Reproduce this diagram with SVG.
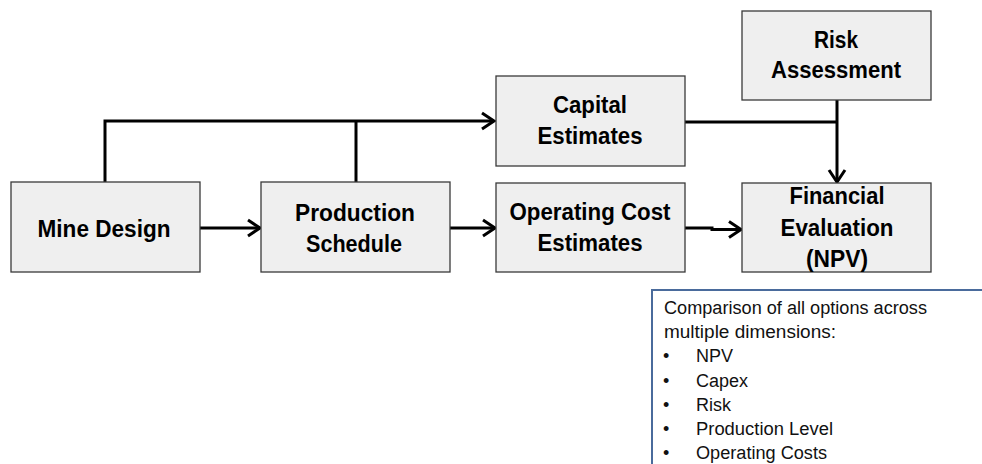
<svg xmlns="http://www.w3.org/2000/svg" width="982" height="464" viewBox="0 0 982 464">
  <style>
    .box { fill: #efefef; stroke: #3a3a3a; stroke-width: 1.3; }
    .lbl { font-family: "Liberation Sans", Arial, sans-serif; font-weight: bold; font-size: 23px; fill: #000; text-anchor: middle; }
    .wire { fill: none; stroke: #000; stroke-width: 3; }
    .note { fill: #fff; stroke: #4a6b9c; stroke-width: 2; }
    .nt { font-family: "Liberation Sans", Arial, sans-serif; font-size: 18px; fill: #111; }
  </style>
  <defs>
    <marker id="arrow" markerUnits="userSpaceOnUse" markerWidth="18" markerHeight="20" viewBox="0 0 18 20" refX="15" refY="10" orient="auto">
      <path d="M3,2 L15,10 L3,18" fill="none" stroke="#000" stroke-width="3"/>
    </marker>
  </defs>

  <rect width="982" height="464" fill="#fff"/>

  <!-- connectors -->
  <g id="connectors">
    <polyline class="wire" points="105,182 105,121 494,121" marker-end="url(#arrow)"/>
    <polyline class="wire" points="356,182 356,121"/>
    <line class="wire" x1="200" y1="228" x2="260" y2="228" marker-end="url(#arrow)"/>
    <line class="wire" x1="450" y1="228" x2="495" y2="228" marker-end="url(#arrow)"/>
    <polyline class="wire" points="685,228 712,228 712,229.5 741,229.5" marker-end="url(#arrow)"/>
    <polyline class="wire" points="685,122 837,122"/>
    <line class="wire" x1="837" y1="100" x2="837" y2="182" marker-end="url(#arrow)"/>
  </g>

  <!-- process nodes -->
  <g id="mine-design">
    <rect class="box" x="11" y="182" width="189" height="90"/>
    <text class="lbl" x="104" y="237" textLength="133" lengthAdjust="spacingAndGlyphs">Mine Design</text>
  </g>
  <g id="production-schedule">
    <rect class="box" x="261" y="182" width="189" height="90"/>
    <text class="lbl" x="355" y="221" textLength="120" lengthAdjust="spacingAndGlyphs">Production</text>
    <text class="lbl" x="354" y="252" textLength="96" lengthAdjust="spacingAndGlyphs">Schedule</text>
  </g>
  <g id="capital-estimates">
    <rect class="box" x="496" y="76" width="189" height="90"/>
    <text class="lbl" x="590" y="113" textLength="74" lengthAdjust="spacingAndGlyphs">Capital</text>
    <text class="lbl" x="590" y="144" textLength="105" lengthAdjust="spacingAndGlyphs">Estimates</text>
  </g>
  <g id="operating-cost-estimates">
    <rect class="box" x="496" y="183" width="189" height="89"/>
    <text class="lbl" x="590" y="220" textLength="161" lengthAdjust="spacingAndGlyphs">Operating Cost</text>
    <text class="lbl" x="590" y="251" textLength="105" lengthAdjust="spacingAndGlyphs">Estimates</text>
  </g>
  <g id="risk-assessment">
    <rect class="box" x="742" y="11" width="189" height="89"/>
    <text class="lbl" x="836" y="48" textLength="44" lengthAdjust="spacingAndGlyphs">Risk</text>
    <text class="lbl" x="836" y="78" textLength="130" lengthAdjust="spacingAndGlyphs">Assessment</text>
  </g>
  <g id="financial-evaluation">
    <rect class="box" x="742" y="183" width="189" height="89"/>
    <text class="lbl" x="837" y="204" textLength="95" lengthAdjust="spacingAndGlyphs">Financial</text>
    <text class="lbl" x="837" y="236" textLength="113" lengthAdjust="spacingAndGlyphs">Evaluation</text>
    <text class="lbl" x="837" y="267" textLength="62" lengthAdjust="spacingAndGlyphs">(NPV)</text>
  </g>

  <!-- comparison note -->
  <g id="comparison-note">
    <rect class="note" x="652" y="290" width="340" height="200"/>
    <text class="nt" x="664" y="314" textLength="263" lengthAdjust="spacingAndGlyphs">Comparison of all options across</text>
    <text class="nt" x="664" y="338" textLength="172" lengthAdjust="spacingAndGlyphs">multiple dimensions:</text>
    <g class="nt">
      <text x="663" y="362">•</text>
      <text x="663" y="387">•</text>
      <text x="663" y="411">•</text>
      <text x="663" y="435">•</text>
      <text x="663" y="459">•</text>
      <text x="696" y="362">NPV</text>
      <text x="696" y="387">Capex</text>
      <text x="696" y="411">Risk</text>
      <text x="696" y="435" textLength="137" lengthAdjust="spacingAndGlyphs">Production Level</text>
      <text x="696" y="459" textLength="131" lengthAdjust="spacingAndGlyphs">Operating Costs</text>
    </g>
  </g>
</svg>
